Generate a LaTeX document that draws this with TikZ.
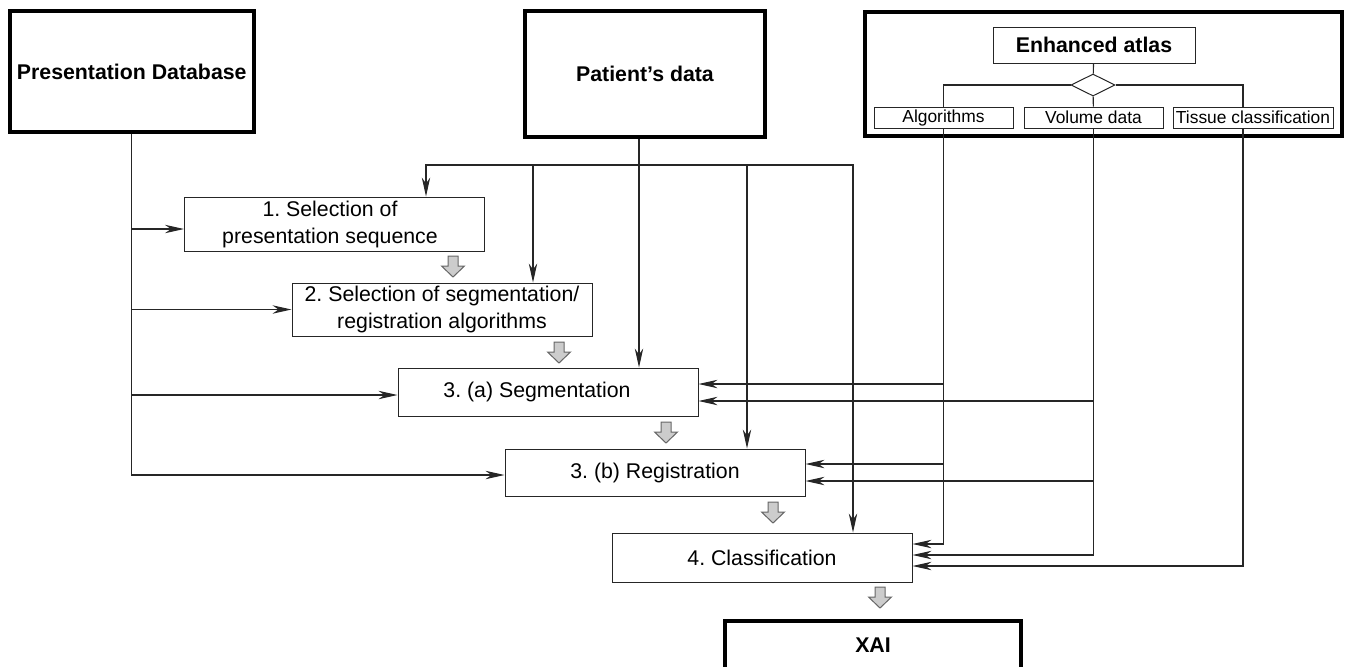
\documentclass[tikz,border=0pt]{standalone}
\usepackage{fontspec}
\setmainfont{Liberation Sans}
\usetikzlibrary{arrows.meta,shapes.geometric}
\frenchspacing

\begin{document}
\begin{tikzpicture}[x=0.5pt,y=-0.5pt,
  box/.style={draw=black!85,line width=0.5pt,minimum width=150pt,align=center,inner sep=1pt,font=\fontsize{10.65}{13.5}\selectfont},
  store/.style={draw=black,line width=2pt,align=center,font=\fontsize{10.65}{13.5}\selectfont\bfseries},
  part/.style={draw=black!85,line width=0.5pt,minimum height=10.5pt,inner sep=0pt,font=\fontsize{8.7}{10}\selectfont},
  link/.style={draw=black!85,line width=0.55pt},
  arr/.style={link,-{Stealth[length=9.5pt,width=4.2pt,inset=3pt]}},
  fatarrow/.pic={\draw[fill=black!20,draw=black!60,line width=0.5pt] (-5,0) -- (5,0) -- (5,10) -- (11.5,10) -- (0,21) -- (-11.5,10) -- (-5,10) -- cycle;}]
                \useasboundingbox (0,0) rectangle (1351,666);
                % Sources
                \node[store,minimum width=122pt,minimum height=60.5pt] (pdb) at (131.75,71.5) {Presentation Database};
                \node[store,minimum width=120pt,minimum height=63pt] (pat) at (645,74) {Patient's data};
                \node[store,minimum width=238.5pt,minimum height=62pt] (atlas) at (1103.5,74) {};
                % Atlas contents
                \node[draw=black!85,line width=0.5pt,minimum width=101pt,minimum height=18pt,inner sep=0pt,font=\fontsize{10.65}{13.5}\selectfont\bfseries] (enh) at (1094,45) {Enhanced atlas};
                \node[draw=black!85,line width=0.5pt,diamond,minimum width=22pt,minimum height=11pt,inner sep=0pt] (join) at (1093,85) {};
                \node[part,minimum width=69.5pt] (alg) at (943.5,117.5) {Algorithms};
                \node[part,minimum width=69.5pt] (vol) at (1093.5,117.5) {Volume data};
                \node[part,minimum width=80pt] (tis) at (1253,117.5) {Tissue classification};
                \draw[link] (enh) -- (join);
                \draw[link] (join) -- (vol);
                \draw[link] (join.west) -| (alg.north);
                \draw[link] (join.east) -| ([xshift=-5pt]tis.north);
                % Steps
                \node[box,minimum height=27pt] (sel) at (334.5,224) {1. Selection of\hspace*{4.5pt}\\presentation sequence\hspace*{4.5pt}};
                \node[box,minimum height=26.5pt] (selalg) at (442,309.5) {2. Selection of segmentation/\\registration algorithms};
                \node[box,minimum height=24pt] (seg) at (548,392) {3. (a) Segmentation\hspace*{11pt}};
                \node[box,minimum height=23.5pt] (reg) at (655,472.5) {3. (b) Registration};
                \node[box,minimum height=24.5pt] (cls) at (762,557.5) {4. Classification};
                \node[store,minimum width=148pt,minimum height=24pt] (xai) at (873,645) {XAI};
                % Order of steps
                \pic at (453,256) {fatarrow};
                \pic at (559,342) {fatarrow};
                \pic at (666,422) {fatarrow};
                \pic at (773,502) {fatarrow};
                \pic at (880,587) {fatarrow};
                % Presentation database
                \draw[arr] (pdb.south) |- ([yshift=-2.5pt]sel.west);
                \draw[arr] (pdb.south) |- (selalg.west);
                \draw[arr] (pdb.south) |- ([yshift=-1.5pt]seg.west);
                \draw[arr] (pdb.south) |- ([yshift=-1.25pt]reg.west);
                % Patient's data
                \coordinate (bus) at (639,165);
                \draw[link] (bus |- pat.south) -- (bus);
                \draw[arr] (bus) -- (bus |- seg.north);
                \draw[arr] (bus) -| ([xshift=45.75pt]sel.north);
                \draw[arr] (bus) -| ([xshift=45.5pt]selalg.north);
                \draw[arr] (bus) -| ([xshift=46pt]reg.north);
                \draw[arr] (bus) -| ([xshift=45.5pt]cls.north);
                % Atlas
                \draw[arr] (alg.south) |- ([yshift=4pt]seg.east);
                \draw[arr] (alg.south) |- ([yshift=4.25pt]reg.east);
                \draw[arr] (alg.south) |- ([yshift=6.75pt]cls.east);
                \draw[arr] (vol.south) |- ([yshift=-4.5pt]seg.east);
                \draw[arr] (vol.south) |- ([yshift=-4.25pt]reg.east);
                \draw[arr] (vol.south) |- ([yshift=1.25pt]cls.east);
                \draw[arr] ([xshift=-5pt]tis.south) |- ([yshift=-4.25pt]cls.east);
\end{tikzpicture}
\end{document}
